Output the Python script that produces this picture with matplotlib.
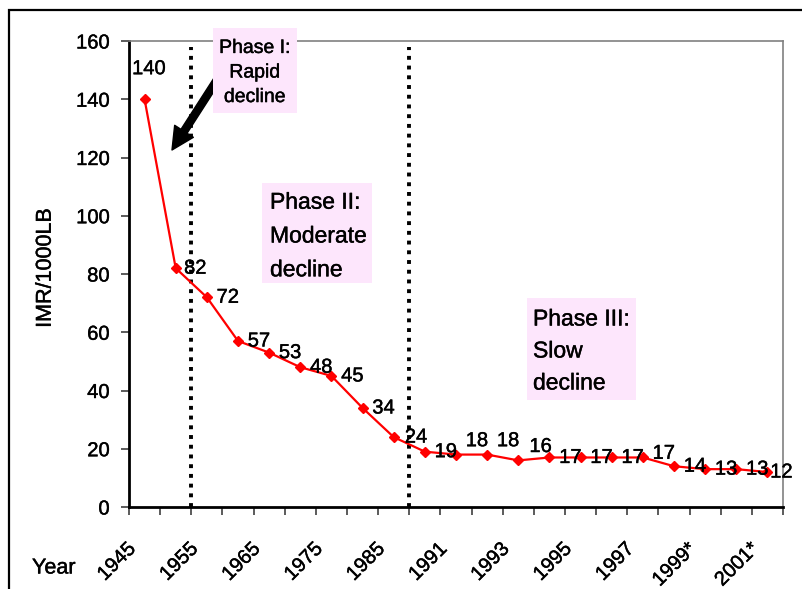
import matplotlib.pyplot as plt
import matplotlib.transforms as mtransforms
import matplotlib.patheffects as pe
from matplotlib.patches import Rectangle
import numpy as np

plt.rcParams['font.family'] = ['Liberation Sans', 'DejaVu Sans']
heavy = [pe.withStroke(linewidth=0.3, foreground='black')]

# infant mortality per 1000 live births
years = ['1945', '1950', '1955', '1960', '1965', '1970', '1975', '1980', '1985',
         '1990', '1991', '1992', '1993', '1994', '1995', '1996', '1997', '1998',
         '1999*', '2000*', '2001*']
imr = [140, 82, 72, 57, 53, 48, 45, 34, 24, 19, 18, 18, 16, 17, 17, 17, 17,
       14, 13, 13, 12]

# label nudges in points (dx, dy)
lab_dx = [-9, 6, 7, 7, 7, 7, 7, 7, 8, 7, 7, 7, 8, 7, 7, 7, 7, 7, 7, 7, 2]
lab_dy = [22, 0, 0, 0, 0, 0, 0, 0, 0, 0, 10, 10, 10, 0, 0, 0, 3, 0, 0, 0, 0]

W, H = 802, 589
fig = plt.figure(figsize=(W / 100, H / 100), dpi=100)
ax = fig.add_axes([129 / W, 1 - 507 / H, (783 - 129) / W, (507 - 41) / H])

x = np.arange(len(imr))
ax.plot(x, imr, color='#FF0000', lw=1.6, marker='D', ms=5,
        mfc='#FF0000', mec='#FF0000', zorder=4)

for i, v in enumerate(imr):
    ax.annotate(str(v), (x[i], v), xytext=(lab_dx[i], lab_dy[i]),
                textcoords='offset points', ha='left', va='center',
                fontsize=14.5, color='black', zorder=5, path_effects=heavy)

# phase boundaries
for xb in [1.5, 8.5]:
    ax.vlines(xb, 0, 158, colors='black', lw=2.8, linestyles=[(0, (1, 1.5))],
              zorder=3)

ax.set_xlim(-0.5, len(imr) - 0.5)
ax.set_ylim(0, 160)
ax.set_yticks(range(0, 161, 20))

ax.set_xticks(np.arange(-0.5, len(imr), 1))
ax.set_xticklabels([])
ax.set_xticks(x[::2], [years[i] for i in x[::2]], minor=True)
ax.tick_params(axis='x', which='major', direction='out', length=6,
               width=1.2, color='#404040')
ax.tick_params(axis='x', which='minor', length=0, pad=28, labelsize=14.5)
ax.tick_params(axis='y', direction='out', length=6, width=1.2,
               color='#404040', pad=8, labelsize=14.5)
for lab in ax.get_yticklabels():
    lab.set_path_effects(heavy)
shift = mtransforms.ScaledTranslation(-12 / 100, 0, fig.dpi_scale_trans)
for lab in ax.get_xticklabels(minor=True):
    lab.set_rotation(45)
    lab.set_ha('right')
    lab.set_va('center')
    lab.set_rotation_mode('anchor')
    lab.set_transform(lab.get_transform() + shift)
    lab.set_path_effects(heavy)

for s in ['left', 'bottom']:
    ax.spines[s].set_linewidth(2)
    ax.spines[s].set_color('black')
for s in ['top', 'right']:
    ax.spines[s].set_linewidth(1.2)
    ax.spines[s].set_color('#808080')

ax.set_ylabel('IMR/1000LB', fontsize=15.5, path_effects=heavy)
ax.yaxis.set_label_coords(-0.112, 0.513)
fig.text(32 / W, 1 - 568 / H, 'Year', fontsize=15.5, va='center', ha='left',
         path_effects=heavy)

# phase notes
pink = '#FDE6FC'
boxes = [(213, 28, 297, 113), (262, 183, 372, 283), (527, 298, 636, 400)]
for x0, y0, x1, y1 in boxes:
    fig.patches.append(Rectangle((x0 / W, 1 - y1 / H), (x1 - x0) / W,
                                 (y1 - y0) / H, transform=fig.transFigure,
                                 facecolor=pink, edgecolor='none', zorder=6))
fig.text(255 / W, 1 - 73 / H, 'Phase I:\nRapid\ndecline', fontsize=14,
         ha='center', va='center', linespacing=1.58, zorder=7,
         path_effects=heavy)
fig.text(270 / W, 1 - 236 / H, 'Phase II:\nModerate\ndecline', fontsize=16.5,
         ha='left', va='center', linespacing=1.6, zorder=7, path_effects=heavy)
fig.text(533 / W, 1 - 351 / H, 'Phase III:\nSlow\ndecline', fontsize=16.5,
         ha='left', va='center', linespacing=1.5, zorder=7, path_effects=heavy)

ax.annotate('', xy=(172, H - 150), xytext=(217, H - 80),
            xycoords='figure pixels', textcoords='figure pixels',
            arrowprops=dict(arrowstyle='simple,head_length=0.8,head_width=0.8,tail_width=0.26',
                            mutation_scale=20, fc='black', ec='black',
                            shrinkA=0, shrinkB=0), zorder=8)

# outer chart border
fig.patches.append(Rectangle((9 / W, -0.1), 1.2, 1.1 - 10 / H,
                             transform=fig.transFigure, fill=False,
                             edgecolor='black', lw=1.6))

fig.savefig('out.png', dpi=100)
